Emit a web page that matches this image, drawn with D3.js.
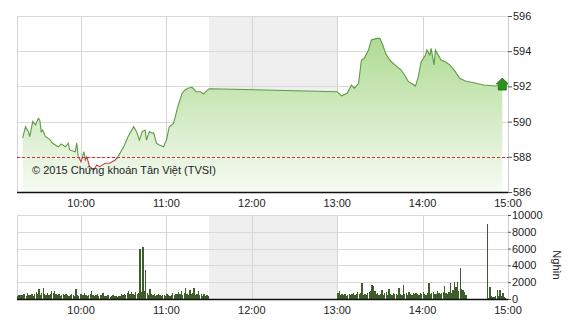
<!doctype html>
<html>
<head>
  <script src="https://cdnjs.cloudflare.com/ajax/libs/d3/7.8.5/d3.min.js"></script>
  <style>
    body { margin: 0; background: #fff; }
    text { font-family: "Liberation Sans", Arial, sans-serif; font-size: 11px; fill: #222; }
  </style>
</head>
<body>
  <svg id="chart" width="570" height="320"></svg>
  <script>
    // index price (time, value)
    var priceTimes = ["09:19","09:21","09:23","09:24","09:26","09:28","09:30","09:31","09:32","09:33","09:35","09:38","09:40","09:44","09:46","09:49","09:51","09:52","09:56","09:57","09:58",
      "10:00","10:02","10:03","10:04","10:06","10:09","10:11","10:13","10:17","10:20","10:24","10:26","10:30","10:33","10:37","10:39","10:41","10:43","10:45","10:46","10:48","10:50","10:51","10:53","10:55","10:58",
      "11:00","11:02","11:05","11:08","11:11","11:13","11:15","11:18","11:21","11:24","11:26","11:29","11:30",
      "13:00","13:03","13:07","13:10","13:12","13:15","13:17","13:19","13:22","13:24","13:28","13:30","13:32","13:34","13:36","13:38","13:42","13:45","13:48","13:50","13:52","13:55","13:57","13:59",
      "14:02","14:03","14:05","14:06","14:08","14:09","14:11","14:13","14:16","14:19","14:23","14:26","14:30","14:36","14:43","14:51","14:56"];
    var priceValues = [589.07,589.71,589.43,589.14,590.00,589.81,590.19,590.09,589.43,589.52,589.14,588.99,588.77,588.57,588.73,588.57,588.77,588.39,588.29,588.80,588.01,
      587.72,588.29,587.82,588.01,587.44,587.25,587.53,587.44,587.63,587.63,587.82,588.01,588.57,589.14,589.71,589.43,588.95,589.43,589.52,588.95,589.43,589.34,589.37,588.77,588.67,588.57,
      588.95,589.71,589.90,590.85,591.61,591.80,591.89,591.95,591.70,591.70,591.57,591.80,591.87,
      591.70,591.47,591.61,592.08,591.89,592.18,593.50,593.60,594.07,594.64,594.73,594.73,594.35,593.88,593.60,593.40,593.12,592.93,592.55,592.27,592.18,592.02,592.55,593.40,
      593.78,594.07,593.78,594.16,593.22,594.07,593.78,593.50,593.40,593.22,592.84,592.46,592.31,592.21,592.08,592.02,592.05];
    var refPrice = 588;

    // volume per minute (thousand shares), three blocks
    var volMorningStart = "09:15";
    var volMorning = [300,450,500,420,600,550,380,700,520,480,650,400,560,800,620,1150,500,700,1270,600,
      480,750,520,640,1000,700,900,560,450,620,380,500,560,420,600,480,350,520,640,460,
      400,1150,500,380,620,540,420,700,480,360,500,600,1000,450,380,520,600,340,480,420,
      760,380,300,450,500,280,360,420,300,380,250,320,400,560,480,620,520,700,900,560,
      780,640,500,820,600,720,6000,800,6200,900,3400,700,500,1200,600,420,560,380,500,640,
      420,360,480,520,400,600,460,380,520,700,480,600,560,780,640,1000,500,720,1300,600,
      480,1100,560,700,1300,500,620,900,480,560,400,620,380,450,300];
    var volAfternoonStart = "13:00";
    var volAfternoon = [700,900,500,620,450,560,380,500,620,450,560,700,480,620,800,540,700,1900,520,600,
      480,700,800,1000,1650,1500,900,560,700,450,620,1100,520,680,800,480,1200,600,520,700,
      640,560,450,1350,600,480,1670,620,700,500,800,620,480,700,560,750,620,500,680,560,
      800,640,520,760,1860,600,700,820,560,640,900,700,580,760,860,1550,700,620,880,1950,
      760,1100,2060,1400,2050,900,3650,1200,1100,800,500];
    var volCloseStart = "14:45";
    var volClose = [8900,100,1460,300,200,250,300,1070,400,1070,300,700,250,150];

    var hourLabels = ["10:00","11:00","12:00","13:00","14:00","15:00"];
    var priceTicks = [586,588,590,592,594,596];
    var volTicks = [0,2000,4000,6000,8000,10000];

    var parse = d3.timeParse("%H:%M");
    var svg = d3.select("#chart");

    var x = d3.scaleTime().domain([parse("09:15"), parse("15:00")]).range([17, 508]);
    var yP = d3.scaleLinear().domain([586, 596]).range([192, 16]);
    var yV = d3.scaleLinear().domain([0, 10000]).range([299, 215]);

    var prices = priceTimes.map((t, i) => ({ t: parse(t), v: priceValues[i] }));

    function frame(y0, y1) {
      var g = svg.append("g").attr("shape-rendering", "crispEdges");
      // lunch break band
      g.append("rect")
        .attr("x", x(parse("11:30"))).attr("y", y0)
        .attr("width", x(parse("13:00")) - x(parse("11:30"))).attr("height", y1 - y0)
        .attr("fill", "#efefef");
      return g;
    }

    function grid(g, ys, y0, y1) {
      g.selectAll("line.h").data(ys).enter().append("line")
        .attr("x1", 17).attr("x2", 508)
        .attr("y1", d => Math.round(d) + 0.5).attr("y2", d => Math.round(d) + 0.5)
        .attr("stroke", "#d9d9d9");
      g.selectAll("line.v").data(hourLabels.concat(["09:15"])).enter().append("line")
        .attr("x1", d => Math.round(x(parse(d))) + 0.5).attr("x2", d => Math.round(x(parse(d))) + 0.5)
        .attr("y1", y0).attr("y2", y1)
        .attr("stroke", "#d4d4d4");
    }

    // ---------- price panel ----------
    var priceG = frame(16, 192);
    grid(priceG, priceTicks.map(yP), 16, 192);

    var defs = svg.append("defs");
    var grad = defs.append("linearGradient").attr("id", "fillG")
      .attr("gradientUnits", "userSpaceOnUse")
      .attr("x1", 0).attr("y1", 16).attr("x2", 0).attr("y2", 192);
    grad.append("stop").attr("offset", "0%").attr("stop-color", "#a4d684");
    grad.append("stop").attr("offset", "100%").attr("stop-color", "#f7fbf4");

    defs.append("clipPath").attr("id", "above").append("rect")
      .attr("x", 0).attr("y", 0).attr("width", 570).attr("height", yP(refPrice));
    defs.append("clipPath").attr("id", "below").append("rect")
      .attr("x", 0).attr("y", yP(refPrice)).attr("width", 570).attr("height", 192 - yP(refPrice));

    svg.append("path").datum(prices)
      .attr("d", d3.area().x(d => x(d.t)).y0(yP(586)).y1(d => yP(d.v)))
      .attr("fill", "url(#fillG)");

    var line = d3.line().x(d => x(d.t)).y(d => yP(d.v));
    svg.append("path").datum(prices).attr("d", line)
      .attr("fill", "none").attr("stroke", "#5e9a47").attr("stroke-width", 1.1)
      .attr("clip-path", "url(#above)");
    svg.append("path").datum(prices).attr("d", line)
      .attr("fill", "none").attr("stroke", "#b5474a").attr("stroke-width", 1.1)
      .attr("clip-path", "url(#below)");

    // reference price
    svg.append("line")
      .attr("x1", 17).attr("x2", 508)
      .attr("y1", Math.round(yP(refPrice)) + 0.5).attr("y2", Math.round(yP(refPrice)) + 0.5)
      .attr("stroke", "#c8343a").attr("stroke-dasharray", "3,2");

    // last price marker
    var last = prices[prices.length - 1];
    var cx = x(last.t), cy = yP(last.v);
    svg.append("path")
      .attr("d", `M${cx},${cy - 7.5} L${cx + 6},${cy - 1.5} L${cx + 4},${cy - 1.5} L${cx + 4},${cy + 4.5} L${cx - 4},${cy + 4.5} L${cx - 4},${cy - 1.5} L${cx - 6},${cy - 1.5} Z`)
      .attr("fill", "#2f8f1f").attr("stroke", "#1d6b12").attr("stroke-width", 0.8);

    // axes lines
    svg.append("line").attr("x1", 17).attr("x2", 508).attr("y1", 192.5).attr("y2", 192.5)
      .attr("stroke", "#111").attr("stroke-width", 1.3);
    svg.append("line").attr("x1", 508.5).attr("x2", 508.5).attr("y1", 16).attr("y2", 192)
      .attr("stroke", "#cfcfcf");

    var yAxisP = d3.axisRight(yP).tickValues(priceTicks).tickSize(4).tickPadding(1);
    svg.append("g").attr("transform", "translate(508,0)").call(yAxisP)
      .call(g => g.select(".domain").remove())
      .call(g => g.selectAll("line").attr("stroke", "#555"))
      .call(g => g.selectAll("text").style("font-size", "11px").attr("fill", "#222"));

    svg.append("text").attr("x", 32).attr("y", 174)
      .style("font-size", "11px")
      .text("© 2015 Chứng khoán Tân Việt (TVSI)");

    // ---------- volume panel ----------
    var volG = frame(215, 299);
    grid(volG, volTicks.map(yV), 215, 299);

    function bars(start, vals) {
      var t0 = parse(start);
      var data = vals.map((v, i) => ({ t: d3.timeMinute.offset(t0, i), v: v }));
      svg.append("g").attr("shape-rendering", "crispEdges")
        .selectAll("rect").data(data).enter().append("rect")
        .attr("x", d => x(d.t))
        .attr("width", 1.3)
        .attr("y", d => yV(d.v))
        .attr("height", d => yV(0) - yV(d.v))
        .attr("fill", "#3d5e2b");
    }
    bars(volMorningStart, volMorning);
    bars(volAfternoonStart, volAfternoon);
    bars(volCloseStart, volClose);

    svg.append("line").attr("x1", 17).attr("x2", 508).attr("y1", 299.5).attr("y2", 299.5)
      .attr("stroke", "#111").attr("stroke-width", 1.3);
    svg.append("line").attr("x1", 508.5).attr("x2", 508.5).attr("y1", 215).attr("y2", 299)
      .attr("stroke", "#cfcfcf");

    var yAxisV = d3.axisRight(yV).tickValues(volTicks).tickSize(3).tickPadding(1)
      .tickFormat(d3.format("d"));
    svg.append("g").attr("transform", "translate(508,0)").call(yAxisV)
      .call(g => g.select(".domain").remove())
      .call(g => g.selectAll("line").attr("stroke", "#555"))
      .call(g => g.selectAll("text").style("font-size", "11px").attr("fill", "#222"));

    svg.append("text")
      .attr("transform", "translate(553,265) rotate(90)")
      .attr("text-anchor", "middle")
      .text("Nghìn");

    // time labels above and below the volume panel
    [207, 314].forEach(yy => {
      svg.append("g").selectAll("text").data(hourLabels).enter().append("text")
        .attr("x", d => x(parse(d)))
        .attr("y", yy)
        .attr("text-anchor", "middle")
        .text(d => d);
    });
  </script>
</body>
</html>
